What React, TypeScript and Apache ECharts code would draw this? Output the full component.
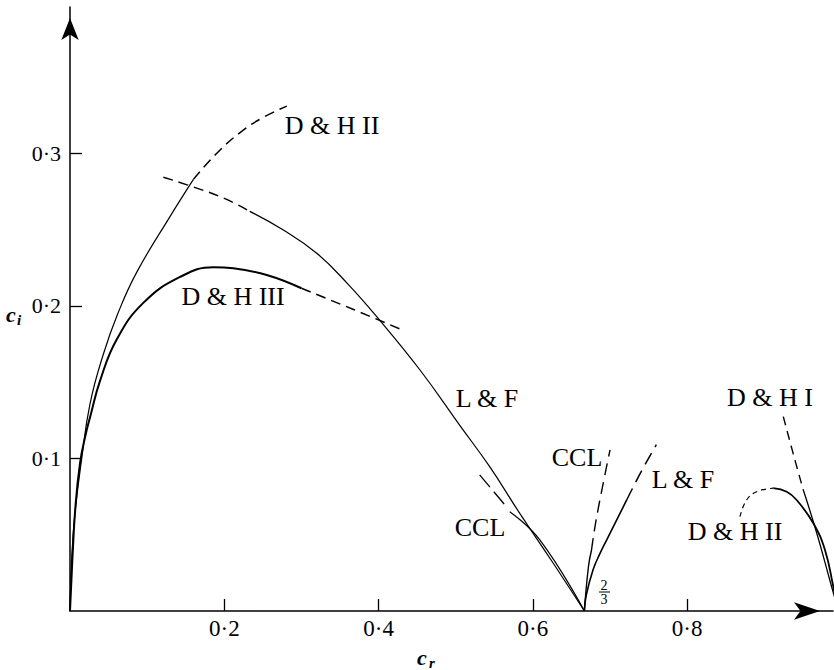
import React, { useEffect, useRef } from "react";
import * as echarts from "echarts";

// ---- data (cr, ci) ----
const xTickValues = [0.2, 0.4, 0.6, 0.8];
const yTickValues = [0.1, 0.2, 0.3];

const dh2UpperSolid = [
  [0, 0], [0.002, 0.032], [0.006, 0.062], [0.0152, 0.1], [0.026, 0.136],
  [0.043, 0.168], [0.062, 0.195], [0.0864, 0.222], [0.1296, 0.2586], [0.16, 0.283],
];
const dh2UpperDashed = [
  [0.16, 0.283], [0.19, 0.3], [0.22, 0.3135], [0.25, 0.3235], [0.281, 0.331],
];
const dh3Solid = [
  [0, 0], [0.0035, 0.038], [0.007, 0.068], [0.013, 0.097], [0.02, 0.115], [0.026, 0.127],
  [0.039, 0.151], [0.0605, 0.178], [0.095, 0.202], [0.1426, 0.219], [0.186, 0.2254],
  [0.2117, 0.2247], [0.255, 0.2203], [0.3, 0.2116],
];
const dh3Dashed = [[0.3, 0.2116], [0.366, 0.198], [0.432, 0.184]];
const lfDashed = [[0.121, 0.2844], [0.16, 0.278], [0.2, 0.2705], [0.233, 0.262]];
const lfSolid = [
  [0.233, 0.262], [0.2765, 0.2498], [0.3198, 0.2346], [0.36, 0.2145], [0.4, 0.1915],
  [0.4537, 0.158], [0.5055, 0.1215], [0.544, 0.0946], [0.583, 0.064], [0.6264, 0.0313],
  [0.6667, 0],
];
const cclLowerDashed = [[0.531, 0.0892], [0.5638, 0.0695]];
const cclLowerSolid = [[0.57, 0.0651], [0.609, 0.0466], [0.6667, 0]];
const cclRightSolid = [[0.6667, 0], [0.672, 0.029], [0.676, 0.04]];
const cclRightDashed = [[0.676, 0.04], [0.6827, 0.0618], [0.7, 0.1056]];
const lfRightSolid = [
  [0.6667, 0], [0.669, 0.01], [0.678, 0.027], [0.687, 0.0378], [0.6957, 0.0466], [0.7216, 0.0728],
];
const lfRightDashed = [[0.7216, 0.0728], [0.74, 0.091], [0.76, 0.109]];
const dh2RightDashed = [[0.8684, 0.0618], [0.877, 0.0728], [0.89, 0.0782], [0.9116, 0.0805]];
const dh2RightSolid = [
  [0.9116, 0.0805], [0.929, 0.0782], [0.9419, 0.0728], [0.9635, 0.0575], [0.9786, 0.04],
  [0.9894, 0.016], [0.996, 0],
];
const dh1Dashed = [[0.9246, 0.1274], [0.9375, 0.103], [0.9505, 0.0793]];
const dh1Solid = [[0.9505, 0.0793], [0.968, 0.051], [0.985, 0.02], [0.996, 0]];

const FONT = '"Liberation Serif", "DejaVu Serif", "Times New Roman", serif';

const fmt = (v: number) => v.toFixed(1).replace(".", "\u00B7");

function line(data: number[][], dashed: boolean | number[], width = 1.3, smooth: number = 0.45) {
  return {
    type: "line",
    data,
    symbol: "none",
    showSymbol: false,
    smooth,
    silent: true,
    lineStyle: {
      color: "#000",
      width,
      type: dashed === false ? "solid" : dashed === true ? [10, 6] : dashed,
    },
  };
}

export default function App() {
  const ref = useRef<HTMLDivElement>(null);
  useEffect(() => {
    if (!ref.current) return;
    const chart = echarts.init(ref.current, null, { renderer: "svg" });
    const labelText = (text: string, x: number, y: number, size = 26) => ({
      type: "text",
      x,
      y,
      silent: true,
      style: {
        text,
        fill: "#000",
        font: `${size}px ${FONT}`,
        textAlign: "center",
        textVerticalAlign: "middle",
      },
    });
    const italicBold = (text: string, x: number, y: number, size: number) => ({
      type: "text",
      x,
      y,
      silent: true,
      style: {
        text,
        fill: "#000",
        font: `italic bold ${size}px ${FONT}`,
        textAlign: "left",
        textVerticalAlign: "middle",
      },
    });
    chart.setOption({
      animation: false,
      backgroundColor: "#fff",
      grid: { left: 70, right: 1, top: 7, bottom: 59, containLabel: false, outerBoundsMode: "none" },
      xAxis: {
        type: "value",
        min: 0,
        max: 0.989,
        interval: 0.2,
        splitLine: { show: false },
        axisLine: {
          show: true,
          onZero: false,
          symbol: ["none", "arrow"],
          symbolSize: [13, 26],
          symbolOffset: [0, -13],
          lineStyle: { color: "#000", width: 1.5 },
        },
        axisTick: {
          show: true,
          inside: true,
          length: 12,
          customValues: xTickValues,
          lineStyle: { color: "#000", width: 1.3 },
        },
        axisLabel: {
          show: true,
          margin: 6,
          customValues: xTickValues,
          color: "#000",
          fontFamily: FONT,
          fontSize: 23,
          formatter: (v: number) => (xTickValues.some((t) => Math.abs(t - v) < 1e-6) ? fmt(v) : ""),
        },
      },
      yAxis: {
        type: "value",
        min: 0,
        max: 0.396,
        interval: 0.1,
        splitLine: { show: false },
        axisLine: {
          show: true,
          onZero: false,
          symbol: ["none", "arrow"],
          symbolSize: [13, 22],
          symbolOffset: [0, -11],
          lineStyle: { color: "#000", width: 1.5 },
        },
        axisTick: {
          show: true,
          inside: true,
          length: 12,
          customValues: yTickValues,
          lineStyle: { color: "#000", width: 1.3 },
        },
        axisLabel: {
          show: true,
          margin: 9,
          customValues: yTickValues,
          color: "#000",
          fontFamily: FONT,
          fontSize: 22,
          formatter: (v: number) => (yTickValues.some((t) => Math.abs(t - v) < 1e-6) ? fmt(v) : ""),
        },
      },
      series: [
        line(dh2UpperSolid, false, 1.2),
        line(dh2UpperDashed, [10, 6], 1.5),
        line(dh3Solid, false, 2),
        line(dh3Dashed, [10, 6], 1.5, 0),
        line(lfDashed, [10, 6], 1.4),
        line(lfSolid, false, 1.2),
        line(cclLowerDashed, [16, 6], 1.3, 0),
        line(cclLowerSolid, false, 1.2),
        line(cclRightSolid, false, 1.4),
        line(cclRightDashed, [12, 7], 1.4),
        line(lfRightSolid, false, 1.6),
        line(lfRightDashed, [13, 7], 1.5),
        line(dh2RightDashed, [5, 4], 1.2),
        line(dh2RightSolid, false, 1.8),
        line(dh1Dashed, [9, 6], 1.4),
        line(dh1Solid, false, 1.3),
      ],
      graphic: [
        labelText("D & H II", 332, 125),
        labelText("D & H III", 233, 296),
        labelText("L & F", 487, 398),
        labelText("CCL", 480, 527),
        labelText("CCL", 577, 457),
        labelText("L & F", 683, 479),
        labelText("D & H I", 770, 397),
        labelText("D & H II", 735, 531),
        labelText("2", 604, 585, 14),
        labelText("3", 604, 599, 14),
        { type: "line", silent: true, shape: { x1: 599, y1: 592, x2: 610, y2: 592 }, style: { stroke: "#000", lineWidth: 1 } },
        italicBold("c", 417, 657, 22),
        italicBold("r", 429, 663, 15),
        italicBold("c", 6, 314, 22),
        italicBold("i", 17, 320, 15),
      ],
    });
    return () => chart.dispose();
  }, []);
  return (
    <div
      ref={ref}
      style={{ position: "absolute", left: 0, top: 0, width: 834, height: 670, background: "#fff" }}
    />
  );
}
